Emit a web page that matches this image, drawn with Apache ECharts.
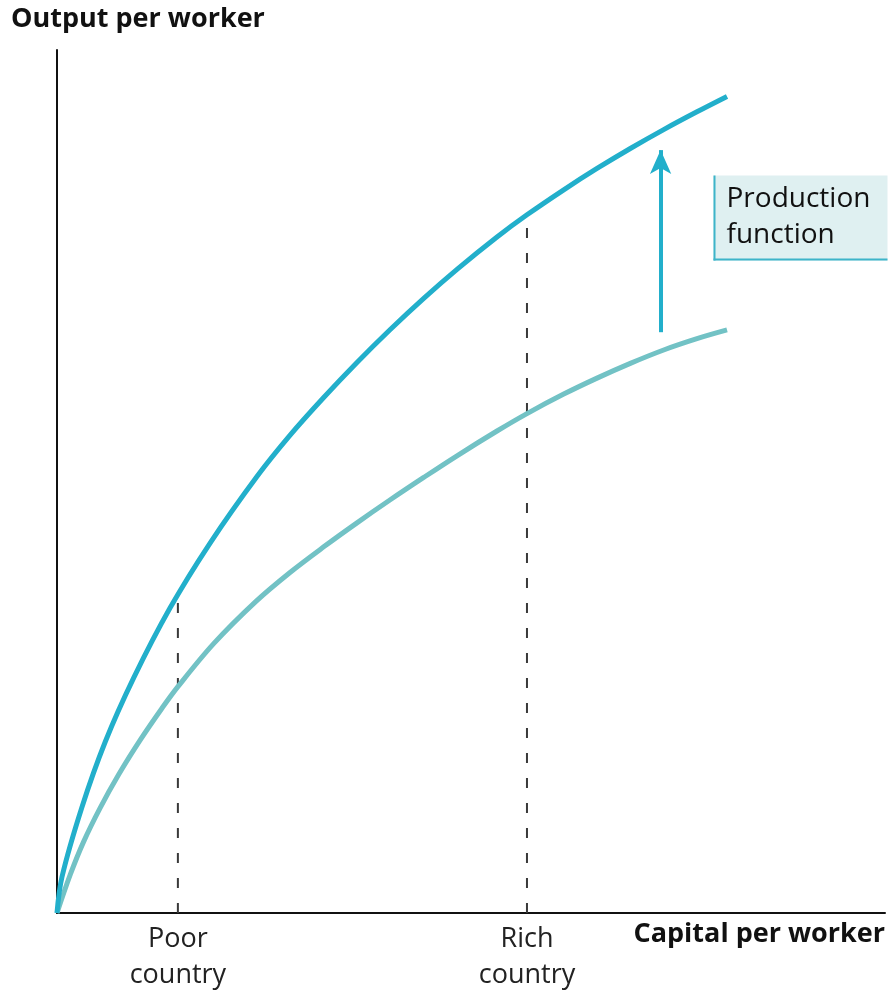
<!DOCTYPE html>
<html>
<head>
<meta charset="utf-8">
<script src="https://cdn.jsdelivr.net/npm/echarts@6/dist/echarts.min.js"></script>
<style>
html,body{margin:0;padding:0;background:#fff;}
#chart{width:891px;height:995px;}
</style>
</head>
<body>
<div id="chart"></div>
<script>
// Capital per worker (x) and output per worker (y), arbitrary 0-100 units
const upperX = [0, 0.6, 3.02, 5.83, 9.26, 13.68, 18.51, 24.15, 28.18, 32.21, 36.23, 40.25, 44.29, 48.31, 53.14, 56.76, 61.20, 65.22, 69.24, 73.27, 77.29, 80.92];
const upperY = [0, 4.17, 12.28, 19.84, 27.24, 35.39, 42.90, 50.58, 55.40, 59.73, 63.79, 67.61, 71.22, 74.58, 78.33, 80.90, 83.80, 86.27, 88.59, 90.78, 92.84, 94.62];
const lowerX = [0, 1.61, 3.22, 5.23, 7.45, 10.06, 12.68, 14.58, 18.92, 24.03, 28.18, 32.21, 36.23, 40.25, 44.29, 48.31, 53.14, 56.76, 61.20, 65.22, 69.24, 73.27, 77.29, 80.92];
const lowerY = [0, 4.47, 8.27, 12.21, 16.05, 20.06, 23.73, 26.20, 31.21, 36.11, 39.49, 42.43, 45.21, 47.88, 50.47, 52.98, 55.85, 57.87, 60.13, 61.98, 63.69, 65.24, 66.55, 67.56];
const countryX = [14.6, 56.76];
const countryLabels = ['Poor\ncountry', 'Rich\ncountry'];
const countryTopY = [37.0, 80.9];
const arrowX = 72.9;
const arrowFromY = 67.3;
const arrowToY = 88.4;
const xTitle = 'Capital per worker';
const yTitle = 'Output per worker';
const boxLines = ['Production', 'function'];

const zip = (xs, ys) => xs.map((x, i) => [x, ys[i]]);
const FONT = '"Open Sans", "Noto Sans", sans-serif';
const UPPER = '#22AFCB';
const LOWER = '#72C2C5';

const chart = echarts.init(document.getElementById('chart'));

const dashSeries = countryX.map((x, i) => ({
  type: 'line',
  data: [[x, 0], [x, countryTopY[i]]],
  symbol: 'none',
  lineStyle: { color: '#3a3a3a', width: 2, type: [10, 15] },
  z: 1,
  silent: true
}));

chart.setOption({
  animation: false,
  title: {
    text: yTitle,
    left: 6,
    top: 1,
    textStyle: { fontFamily: FONT, fontWeight: 'bold', fontSize: 27, color: '#111' }
  },
  grid: { left: 57, right: 6, top: 50, bottom: 82 },
  xAxis: {
    type: 'value',
    min: 0,
    max: 100,
    splitLine: { show: false },
    axisTick: { show: false },
    axisLine: { lineStyle: { color: '#111', width: 2 } },
    name: xTitle,
    nameLocation: 'end',
    nameGap: 0,
    nameTextStyle: {
      fontFamily: FONT, fontWeight: 'bold', fontSize: 27, color: '#111',
      align: 'right', verticalAlign: 'top', padding: [8, 0, 0, 0]
    },
    axisLabel: {
      customValues: countryX,
      formatter: (v) => {
        const i = countryX.findIndex(c => Math.abs(c - v) < 1e-6);
        return i >= 0 ? countryLabels[i] : '';
      },
      fontFamily: FONT,
      fontSize: 27,
      color: '#222',
      lineHeight: 36,
      margin: 8
    }
  },
  yAxis: {
    type: 'value',
    min: 0,
    max: 100,
    splitLine: { show: false },
    axisTick: { show: false },
    axisLabel: { show: false },
    axisLine: { show: true, lineStyle: { color: '#111', width: 2 } }
  },
  graphic: [
    {
      type: 'group',
      left: 711,
      top: 173,
      children: [
        { type: 'rect', shape: { x: 0, y: 0, width: 174, height: 85 }, style: { fill: '#DFF0F1' } },
        { type: 'line', shape: { x1: 1, y1: 0, x2: 1, y2: 85 }, style: { stroke: '#3DB4C9', lineWidth: 2 } },
        { type: 'line', shape: { x1: 0, y1: 84, x2: 174, y2: 84 }, style: { stroke: '#3DB4C9', lineWidth: 2 } },
        { type: 'text', x: 13, y: 24, style: { text: boxLines[0], font: '28px ' + FONT, fill: '#111', verticalAlign: 'middle' } },
        { type: 'text', x: 13, y: 60, style: { text: boxLines[1], font: '28px ' + FONT, fill: '#111', verticalAlign: 'middle' } }
      ]
    }
  ],
  series: [
    ...dashSeries,
    {
      type: 'line',
      data: zip(lowerX, lowerY),
      symbol: 'none',
      smooth: 0.35,
      lineStyle: { color: LOWER, width: 5 },
      z: 3
    },
    {
      type: 'line',
      data: zip(upperX, upperY),
      symbol: 'none',
      smooth: 0.35,
      lineStyle: { color: UPPER, width: 5 },
      z: 4,
      markLine: {
        silent: true,
        symbol: ['none', 'arrow'],
        symbolSize: [16, 24],
        label: { show: false },
        lineStyle: { color: UPPER, width: 4, type: 'solid' },
        data: [[{ coord: [arrowX, arrowFromY] }, { coord: [arrowX, arrowToY] }]]
      }
    }
  ]
});
</script>
</body>
</html>
